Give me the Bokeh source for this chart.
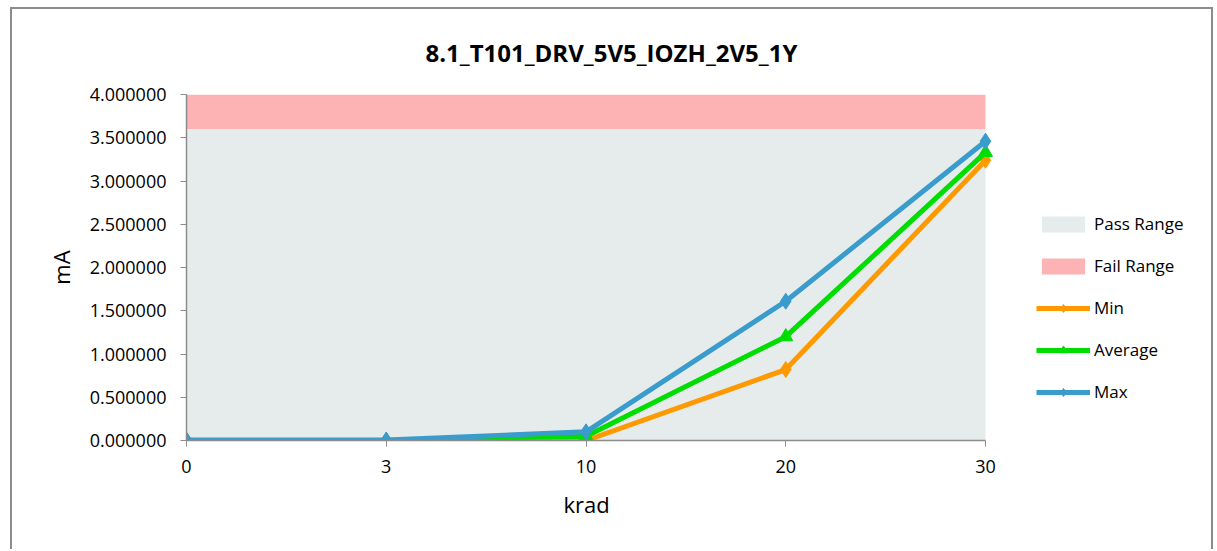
from bokeh.plotting import figure
from bokeh.models import (Range1d, FixedTicker, NumeralTickFormatter, Legend, LegendItem,
                          ColumnDataSource, Title)
from bokeh.embed import file_html
from bokeh.resources import INLINE

# ---- data ----
categories = ["0", "3", "10", "20", "30"]
min_vals = [0.0, 0.0, 0.0, 0.82, 3.24]
avg_vals = [0.0, 0.0, 0.05, 1.20, 3.33]
max_vals = [0.005, 0.005, 0.10, 1.61, 3.46]
pass_limit = 3.6
y_max = 4.0
y_ticks = [0.0, 0.5, 1.0, 1.5, 2.0, 2.5, 3.0, 3.5, 4.0]
title_text = "8.1_T101_DRV_5V5_IOZH_2V5_1Y"
x_title = "krad"
y_title = "mA"

FONT = "Open Sans"
xs = list(range(len(categories)))

# layout (pixels): data area 799 px wide; frame extended right to host the legend
FIG_W, FIG_H = 1203, 542
BL, BR, BT, BB = 174, 10, 85, 111
data_px = 799
frame_px = FIG_W - BL - BR
x_end = (xs[-1] - xs[0]) * frame_px / data_px + xs[0]

p = figure(width=FIG_W, height=FIG_H, output_backend="svg", toolbar_location=None,
           x_range=Range1d(xs[0], x_end), y_range=Range1d(0, y_max),
           min_border_left=BL, min_border_right=BR, min_border_top=BT, min_border_bottom=BB,
           title=title_text)
p.styles = {"margin-left": "10px", "margin-top": "7px",
            "border-left": "2px solid #8c8c8c", "border-top": "2px solid #8c8c8c",
            "border-right": "2px solid #8c8c8c"}
p.background_fill_color = "white"
p.border_fill_color = "white"
p.outline_line_color = None
p.grid.visible = False

p.title.align = "left"
p.title.vertical_align = "middle"
p.title.text_font = FONT
p.title.text_font_size = "24px"
p.title.text_font_style = "bold"
p.title.text_color = "black"
p.title.standoff = 50
p.title.offset = 239

# ranges
pass_r = p.quad(left=xs[0], right=xs[-1], bottom=0, top=pass_limit,
                fill_color="#E6EBEB", line_color=None)
fail_r = p.quad(left=xs[0], right=xs[-1], bottom=pass_limit, top=y_max,
                fill_color="#FDB3B3", line_color=None)

src = ColumnDataSource(dict(x=xs, mn=min_vals, av=avg_vals, mx=max_vals))

min_l = p.line("x", "mn", source=src, line_color="#FF9900", line_width=5)
min_m = p.scatter("x", "mn", source=src, marker="diamond", size=16,
                  fill_color="#FF9900", line_color="#FF9900")
avg_l = p.line("x", "av", source=src, line_color="#00DD00", line_width=5)
avg_m = p.scatter("x", "av", source=src, marker="triangle", size=14,
                  fill_color="#00DD00", line_color="#00DD00")
max_l = p.line("x", "mx", source=src, line_color="#3A9BCD", line_width=5)
max_m = p.scatter("x", "mx", source=src, marker="diamond", size=16,
                  fill_color="#3A9BCD", line_color="#3A9BCD")

# axes
p.xaxis.ticker = FixedTicker(ticks=xs)
p.xaxis.major_label_overrides = {i: c for i, c in zip(xs, categories)}
p.xaxis.bounds = (xs[0], xs[-1])
p.yaxis.ticker = FixedTicker(ticks=y_ticks)
p.yaxis.formatter = NumeralTickFormatter(format="0.000000")
for ax in (p.xaxis[0], p.yaxis[0]):
    ax.axis_line_color = "#8c8c8c"
    ax.axis_line_width = 1.5
    ax.major_tick_line_color = "#8c8c8c"
    ax.major_tick_out = 6
    ax.major_tick_in = 0
    ax.minor_tick_line_color = None
    ax.major_label_text_font = FONT
    ax.major_label_text_font_size = "18px"
    ax.major_label_text_color = "black"
    ax.axis_label_text_font = FONT
    ax.axis_label_text_font_size = "22px"
    ax.axis_label_text_font_style = "normal"
    ax.axis_label_text_color = "black"
p.yaxis.axis_label = y_title
p.yaxis.major_label_standoff = 14
p.xaxis.major_label_standoff = 13
p.yaxis.axis_label_standoff = 11

# x-axis title, centred under the data area (not the legend-extended frame)
xt = Title(text=x_title, align="left", offset=377, standoff=22,
           text_font=FONT, text_font_size="22px", text_font_style="normal",
           text_color="black")
p.add_layout(xt, "below")

legend = Legend(items=[
    LegendItem(label="Pass Range", renderers=[pass_r]),
    LegendItem(label="Fail Range", renderers=[fail_r]),
    LegendItem(label="Min", renderers=[min_l, min_m]),
    LegendItem(label="Average", renderers=[avg_l, avg_m]),
    LegendItem(label="Max", renderers=[max_l, max_m]),
], location=(data_px + 51, 37), orientation="vertical")
legend.border_line_color = None
legend.background_fill_alpha = 0
legend.padding = 0
legend.margin = 0
legend.glyph_width = 54
legend.glyph_height = 20
legend.label_height = 20
legend.spacing = 19
legend.label_standoff = 4
legend.label_text_font = FONT
legend.label_text_font_size = "17px"
legend.label_text_color = "black"
p.add_layout(legend, "center")

open("out.html", "w").write(file_html(p, INLINE))
